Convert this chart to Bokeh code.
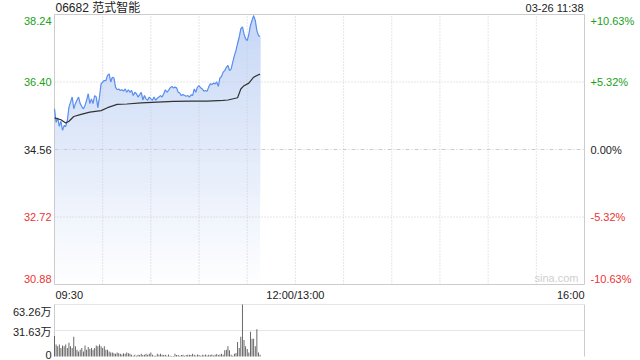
import numpy as np
from bokeh.plotting import figure
from bokeh.models import Label, Range1d, LinearAxis
from bokeh.embed import file_html
from bokeh.resources import INLINE

# ---------------- data ----------------
title_text = "06682 范式智能"
stamp_text = "03-26 11:38"
prev_close = 34.56
price_ticks = [30.88, 32.72, 34.56, 36.40, 38.24]
price_tick_labels = ["30.88", "32.72", "34.56", "36.40", "38.24"]
pct_tick_labels = ["-10.63%", "-5.32%", "0.00%", "+5.32%", "+10.63%"]
session_len = 330  # minutes 09:30-12:00 + 13:00-16:00
time_grid = [30, 60, 90, 120, 150, 180, 210, 240, 270, 300]
time_labels = ["09:30", "12:00/13:00", "16:00"]
time_label_pos = [0, 150, 330]
vol_ticks = [0, 31.63, 63.26]
vol_tick_labels = ["0", "31.63万", "63.26万"]

price = [
    35.67, 35.30, 35.42, 35.19, 35.33, 35.08, 35.21, 35.19, 35.35, 35.71,
    35.85, 35.99, 35.67, 35.81, 35.90, 35.99, 35.81, 35.73, 35.67, 35.76,
    35.90, 36.08, 35.81, 35.94, 35.81, 36.03, 35.99, 35.70, 35.99, 36.35,
    36.40, 36.44, 36.44, 36.58, 36.62, 36.40, 36.53, 36.51, 36.26, 36.19,
    36.21, 36.17, 36.19, 36.15, 36.21, 36.12, 36.19, 36.12, 36.17, 36.03,
    36.12, 36.08, 35.99, 36.05, 36.12, 35.91, 36.03, 35.94, 35.90, 35.99,
    35.94, 35.90, 35.99, 35.90, 35.96, 35.99, 36.03, 35.99, 36.08, 36.19,
    36.12, 36.17, 36.24, 36.28, 36.24, 36.26, 36.24, 36.12, 36.10, 36.03,
    36.06, 36.03, 36.01, 36.03, 35.99, 36.05, 36.03, 36.21, 36.12, 36.26,
    36.30, 36.24, 36.21, 36.15, 36.17, 36.15, 36.26, 36.35, 36.33, 36.37,
    36.35, 36.40, 36.28, 36.51, 36.55, 36.67, 36.71, 36.80, 36.85, 36.71,
    36.76, 36.94, 37.12, 37.26, 37.45, 37.62, 37.85, 37.90, 37.71, 37.58,
    37.53, 37.70, 37.94, 38.08, 38.21, 38.08, 37.80, 37.67, 37.64,
]
minutes = list(range(len(price)))

avg_min = [0, 4, 7, 9, 12, 16, 22, 29, 33, 39, 45, 54, 64, 74, 85, 95,
           105, 108, 114, 116, 118, 121, 124, 127, 128]
avg_val = [35.42, 35.37, 35.28, 35.33, 35.46, 35.51, 35.58, 35.62, 35.70,
           35.79, 35.80, 35.83, 35.85, 35.87, 35.88, 35.88, 35.90, 35.91,
           35.97, 36.21, 36.30, 36.37, 36.53, 36.60, 36.61]

volume = [  # 万股
    25, 14.6, 12.5, 14.6, 10.4, 13.3, 12.5, 14.6, 10.4, 16.6,
    12.5, 10.4, 24, 12.5, 8.3, 6.2, 8.3, 10.4, 6.2, 13.3,
    8.3, 11.6, 9.1, 10.4, 8.3, 10.4, 13.3, 12.5, 14.6, 12.5,
    10.4, 12.5, 8.3, 8.3, 6.2, 5, 5, 4, 3.3, 5,
    4, 3.3, 2.5, 4, 3.3, 5, 4,
    3.3, 2, 1, 2, 0.8, 2, 1.7, 3.3, 1.7, 2,
    3.3, 2, 3.3, 5, 2, 0.8, 0.8, 3.3, 2, 3.3,
    2, 1.7, 2, 0.8, 2.5, 0.8, 0.5, 0.5, 3.3, 1.7,
    1.7, 0.8, 1.7, 2, 0.8, 1.7, 2, 2, 1.7, 3.3,
    2, 1.2, 2.5, 1.7, 0.8, 2, 1.5, 2.5, 1.2, 2,
    1.7, 2.5, 1.2, 2, 3, 1.7, 2.5, 3.3,
    2, 7.5, 8.3, 12.5, 7.5, 2, 0.8, 3.3, 4.2, 17.5, 10.4, 24, 63.26,
    20, 12.5, 9.1, 5, 30, 21.6, 21.6, 12.5, 33, 5, 2,
]

# ---------------- layout (pixels) ----------------
W, H = 640, 360
PL, PR = 54, 584          # plot left/right edge
PT, PB = 14, 284          # price panel top/bottom
VT, VB = 304, 356         # volume panel top/bottom

FONT = "Liberation Sans, Noto Sans CJK SC"
GREEN = "#1a9f1a"
RED = "#ee3333"
BLACK = "#222222"
GRID = "#cccccc"
LINE = "#5a8ef0"

ymin, ymax = price_ticks[0], price_ticks[-1]
xmax = session_len
vmax = vol_ticks[-1]

# data ranges chosen so that the panels land on the pixel layout above
xs = (PR - PL) / xmax
x0 = -PL / xs
x1 = xmax + (W - PR) / xs
ys = (PB - PT) / (ymax - ymin)
y_top = ymax + PT / ys
y_bot = ymin - (H - PB) / ys
vs = (VB - VT) / vmax
v_top = vmax + VT / vs
v_bot = -(H - VB) / vs

p = figure(width=W, height=H, title=None,
           x_range=Range1d(x0, x1), y_range=Range1d(y_bot, y_top),
           x_axis_location=None, y_axis_location=None,
           toolbar_location=None, output_backend="svg",
           min_border=0)
p.extra_y_ranges = {"vol": Range1d(v_bot, v_top)}
p.xgrid.visible = False
p.ygrid.visible = False
p.outline_line_color = None
p.background_fill_color = "white"
p.border_fill_color = "white"

def tick_color(v):
    if v > prev_close + 1e-9:
        return GREEN
    if v < prev_close - 1e-9:
        return RED
    return BLACK

# gradient area below the price line (layered bands)
parr = np.array(price)
nb = 40
levels = np.linspace(ymin, ymax, nb + 1)
top_rgb = np.array([198, 215, 246])
for i in range(nb):
    lo = levels[i]
    t = (i + 0.5) / nb
    c = (255 + (top_rgb - 255) * t).astype(int)
    col = "#%02x%02x%02x" % tuple(c)
    y2 = np.maximum(parr, lo)
    p.varea(x=minutes, y1=lo, y2=y2, fill_color=col)

# price panel grid
p.segment(x0=time_grid, x1=time_grid, y0=ymin, y1=ymax,
          line_color=GRID, line_width=1, line_dash="1 2")
hgrid = [v for v in price_ticks[1:-1] if v != prev_close]
p.segment(x0=0, x1=xmax, y0=hgrid, y1=hgrid,
          line_color=GRID, line_width=1, line_dash="1 2")
p.segment(x0=0, x1=xmax, y0=prev_close, y1=prev_close,
          line_color=GRID, line_width=1, line_dash="4 2 1 2")
p.quad(left=0, right=xmax, bottom=ymin, top=ymax,
       fill_color=None, line_color=GRID, line_width=1)

p.line(minutes, price, line_color=LINE, line_width=1.2)
p.line(avg_min, avg_val, line_color="#333333", line_width=1.2)

n = len(price_ticks)
for k, (v, lab, pl) in enumerate(zip(price_ticks, price_tick_labels, pct_tick_labels)):
    off = 0
    if k == 0:
        off = 6
    elif k == n - 1:
        off = -6
    col = tick_color(v)
    p.add_layout(Label(x=0, y=v, x_offset=-3, y_offset=off, text=lab,
                       text_align="right", text_baseline="middle",
                       text_font=FONT, text_font_size="11px", text_color=col))
    p.add_layout(Label(x=xmax, y=v, x_offset=6, y_offset=off, text=pl,
                       text_align="left", text_baseline="middle",
                       text_font=FONT, text_font_size="11px", text_color=col))

aligns = ["left", "center", "right"]
for lab, pos, al in zip(time_labels, time_label_pos, aligns):
    p.add_layout(Label(x=pos, y=ymin, y_offset=-10, x_offset=1 if al == "left" else 0,
                       text=lab, text_align=al, text_baseline="middle",
                       text_font=FONT, text_font_size="11px", text_color=BLACK))

p.add_layout(Label(x=0, y=ymax, x_offset=1, y_offset=7, text=title_text,
                   text_align="left", text_baseline="middle",
                   text_font=FONT, text_font_size="12px", text_color=BLACK))
p.add_layout(Label(x=xmax, y=ymax, x_offset=-1, y_offset=7, text=stamp_text,
                   text_align="right", text_baseline="middle",
                   text_font=FONT, text_font_size="11px", text_color=BLACK))
p.add_layout(Label(x=xmax, y=ymin, x_offset=-6, y_offset=7, text="sina.com",
                   text_align="right", text_baseline="middle",
                   text_font=FONT, text_font_size="11px", text_color="#cfcfcf"))

# ---------------- volume panel ----------------
p.segment(x0=[0, xmax], x1=[0, xmax], y0=0, y1=vmax,
          line_color=GRID, line_width=1, y_range_name="vol")
p.segment(x0=0, x1=xmax, y0=vol_ticks[1:], y1=vol_ticks[1:],
          line_color=GRID, line_width=1, line_dash="1 1", y_range_name="vol")
p.vbar(x=minutes, top=volume, bottom=0, width=0.55,
       fill_color="#555555", line_color=None, y_range_name="vol")

voffs = [2, -1, -7]
for v, lab, off in zip(vol_ticks, vol_tick_labels, voffs):
    p.add_layout(Label(x=0, y=v, x_offset=-3, y_offset=off, text=lab,
                       y_range_name="vol",
                       text_align="right", text_baseline="middle",
                       text_font=FONT, text_font_size="11px", text_color=BLACK))

open("out.html", "w").write(file_html(p, INLINE))
